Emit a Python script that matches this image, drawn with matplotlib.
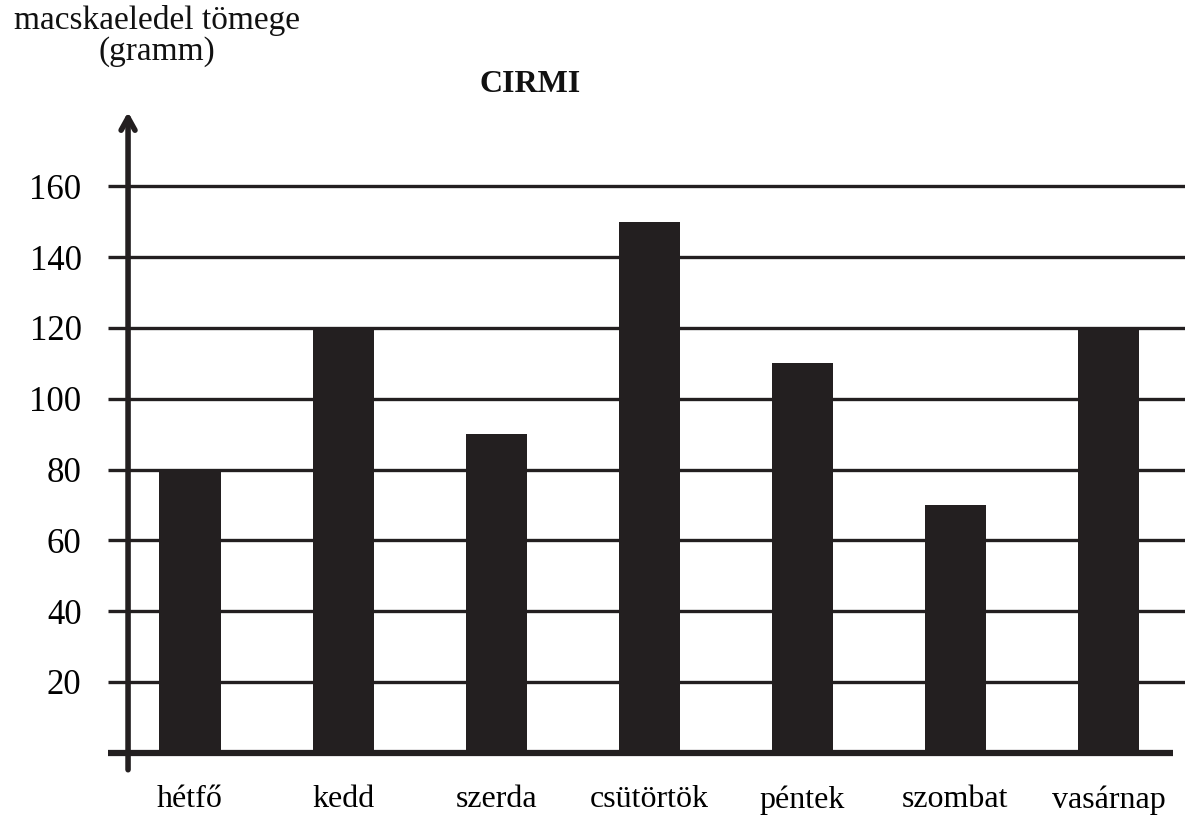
import matplotlib
matplotlib.use('Agg')
import matplotlib.pyplot as plt

# napok es a macskaeledel tomege (gramm)
days = ['hétfő', 'kedd', 'szerda', 'csütörtök', 'péntek', 'szombat', 'vasárnap']
grams = [80, 120, 90, 150, 110, 70, 120]
y_ticks = [20, 40, 60, 80, 100, 120, 140, 160]

ink = '#231f20'
plt.rcParams['font.family'] = ['Liberation Serif', 'DejaVu Serif']

fig = plt.figure(figsize=(11.85, 8.16), dpi=100)
ax = fig.add_axes([108 / 1185, 1 - 774 / 816, 1 - 108 / 1185, (774 - 112) / 816])

x = list(range(len(days)))
ax.bar(x, grams, width=0.4, color=ink, zorder=3)

# vizszintes racsvonalak
for t in y_ticks:
    ax.plot([-0.536, 6.5], [t, t], color=ink, lw=2.4, zorder=1, solid_capstyle='butt')
# alapvonal
ax.plot([-0.536, 6.42], [0, 0], color=ink, lw=4.5, zorder=4, solid_capstyle='butt')

# fuggoleges tengely nyillal
ax.annotate('', xy=(-0.405, 181), xytext=(-0.405, -4.8),
            arrowprops=dict(arrowstyle='->,head_length=0.9,head_width=0.5',
                            lw=4, color=ink, shrinkA=0, shrinkB=0), zorder=5)

ax.set_xlim(-0.536, 6.5)
ax.set_ylim(-6, 181)
ax.set_xticks(x)
ax.set_xticklabels(days, fontsize=23)
ax.set_yticks(y_ticks)
ax.set_yticklabels([str(t) for t in y_ticks], fontsize=25)
ax.tick_params(axis='both', length=0)
ax.tick_params(axis='y', pad=19)
ax.tick_params(axis='x', pad=8)
for s in ax.spines.values():
    s.set_visible(False)

fig.text(157 / 1185, 1 - 20 / 816, 'macskaeledel tömege', ha='center', va='center', fontsize=24, color='#111111')
fig.text(157 / 1185, 1 - 52 / 816, '(gramm)', ha='center', va='center', fontsize=24, color='#111111')
fig.text(530 / 1185, 1 - 84 / 816, 'CIRMI', ha='center', va='center', fontsize=23, fontweight='bold', color='#111111')

fig.savefig('out.png', dpi=100)
